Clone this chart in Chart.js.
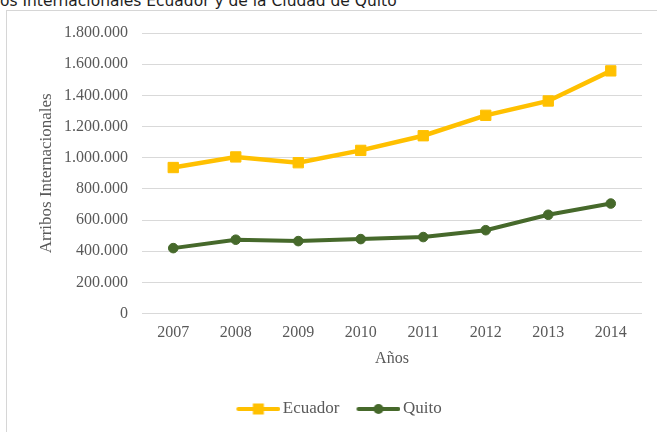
<!DOCTYPE html>
<html>
<head>
<meta charset="utf-8">
<script src="https://cdn.jsdelivr.net/npm/chart.js@4.4.1/dist/chart.umd.min.js"></script>
<style>
  html, body { margin: 0; padding: 0; background: #fff; }
  body { width: 657px; height: 432px; position: relative; overflow: hidden; }
  #frame { position: absolute; left: 6px; top: 10px; width: 700px; height: 500px;
           border-left: 1px solid #d6d6d6; border-top: 1px solid #d6d6d6; }
  #title { position: absolute; top: -8.5px; white-space: nowrap;
           font-family: "DejaVu Sans", sans-serif; font-size: 15px; color: #1e1e1e; }
  #wrap { position: absolute; left: 0; top: 0; width: 657px; height: 432px; }
</style>
</head>
<body>
<div id="frame"></div>
<div id="title">Arribos Internacionales Ecuador y de la Ciudad de Quito</div>
<div id="wrap"><canvas id="c" width="657" height="432"></canvas></div>
<script>
const years = ["2007", "2008", "2009", "2010", "2011", "2012", "2013", "2014"];
const ecuador = [937000, 1005000, 968000, 1047000, 1141000, 1272000, 1364000, 1557000];
const quito = [420000, 474000, 465000, 478000, 491000, 535000, 634000, 706000];
const seriesNames = ["Ecuador", "Quito"];
const yAxisTitle = "Arribos Internacionales";
const xAxisTitle = "Años";

// title clipping: hide "Arrib" to the left of the page
(function () {
  const t = document.getElementById('title');
  const cv = document.createElement('canvas').getContext('2d');
  cv.font = '15px "DejaVu Sans"';
  const visible = "os Internacionales Ecuador y de la Ciudad de Quito";
  const w = cv.measureText(visible).width;
  const size = 15 * 397 / w;
  cv.font = size + 'px "DejaVu Sans"';
  t.style.fontSize = size + 'px';
  t.style.left = (-cv.measureText("Arrib").width) + 'px';
})();

const ECU = '#FFC000';
const QUI = '#46692B';
const TXT = '#595959';
const GRID = '#d9d9d9';

function legendImg(color, style) {
  const c = document.createElement('canvas');
  c.width = 50; c.height = 14;
  const g = c.getContext('2d');
  g.strokeStyle = color; g.lineWidth = 4; g.lineCap = 'round';
  g.beginPath(); g.moveTo(8, 7); g.lineTo(48, 7); g.stroke();
  g.fillStyle = color;
  if (style === 'rect') { g.fillRect(28 - 5.5, 7 - 5.5, 11, 11); }
  else { g.beginPath(); g.arc(28, 7, 5, 0, Math.PI * 2); g.fill(); }
  return c;
}
const legendImgs = [legendImg(ECU, 'rect'), legendImg(QUI, 'circle')];

const fmt = v => v.toLocaleString('de-DE');

new Chart(document.getElementById('c'), {
  type: 'line',
  data: {
    labels: years,
    datasets: [
      { label: seriesNames[0], data: ecuador, borderColor: ECU, backgroundColor: ECU,
        borderWidth: 4.5, pointStyle: 'rect', pointRadius: 7.3, pointBorderWidth: 1,
        pointBackgroundColor: ECU, pointBorderColor: ECU, tension: 0 },
      { label: seriesNames[1], data: quito, borderColor: QUI, backgroundColor: QUI,
        borderWidth: 4, pointStyle: 'circle', pointRadius: 4.8, pointBorderWidth: 1,
        pointBackgroundColor: QUI, pointBorderColor: QUI, tension: 0 }
    ]
  },
  options: {
    responsive: false,
    animation: false,
    devicePixelRatio: 1,
    layout: { padding: { left: 36, right: 15, top: 33, bottom: 4.5 } },
    plugins: {
      title: { display: false },
      tooltip: { enabled: false },
      legend: {
        position: 'bottom',
        labels: {
          usePointStyle: true,
          pointStyleWidth: 38,
          boxHeight: 14,
          padding: 17,
          color: TXT,
          font: { family: '"Liberation Serif"', size: 17 },
          generateLabels: (chart) => chart.data.datasets.map((ds, i) => ({
            text: ds.label, pointStyle: legendImgs[i], fontColor: TXT,
            strokeStyle: ds.borderColor, fillStyle: ds.borderColor, lineWidth: 0,
            hidden: false, datasetIndex: i
          }))
        }
      }
    },
    scales: {
      x: {
        offset: true,
        grid: { display: false, drawTicks: false, offset: true },
        border: { display: false },
        ticks: { color: TXT, padding: 10, font: { family: '"Liberation Serif"', size: 16 } },
        title: { display: true, text: xAxisTitle, color: TXT, padding: { top: -4, bottom: 15.5 },
                 font: { family: '"Liberation Serif"', size: 16 } }
      },
      y: {
        min: 0, max: 1800000,
        afterFit: (s) => { s.width = 106; },
        grid: { color: GRID, lineWidth: 1, drawTicks: false },
        border: { display: false },
        ticks: { stepSize: 200000, color: TXT, padding: 14, callback: v => fmt(v),
                 font: { family: '"Liberation Serif"', size: 16 } },
        title: { display: true, text: yAxisTitle, color: TXT, padding: { top: 0, bottom: 0 },
                 font: { family: '"Liberation Serif"', size: 17 } }
      }
    }
  }
});
</script>
</body>
</html>
